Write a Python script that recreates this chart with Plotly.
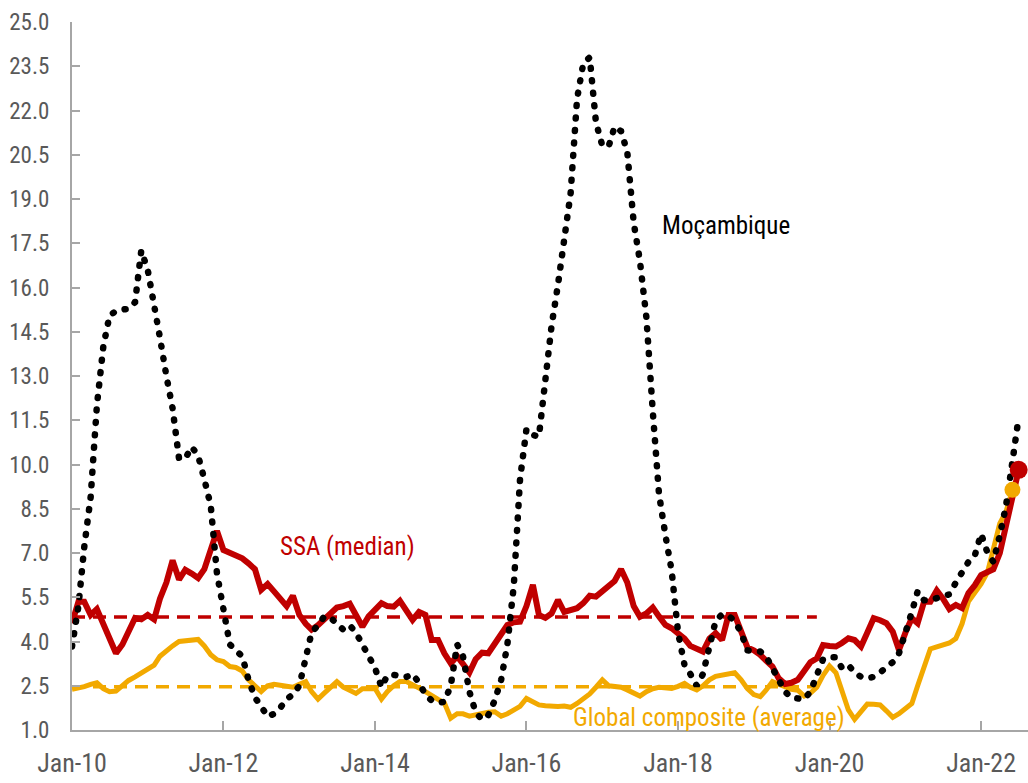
import pandas as pd
import plotly.graph_objects as go

# monthly values, Jan-2010 onwards
moz = [3.83, 5.2, 7.2, 8.9, 12.0, 14.0, 15.05, 15.2, 15.25, 15.28, 15.5, 17.25,
       16.6, 15.5, 14.3, 13.0, 11.9, 10.2, 10.2, 10.6, 10.3, 9.5, 8.6, 6.3,
       5.2, 3.9, 3.7, 3.5, 2.7, 2.1, 1.8, 1.45, 1.55, 1.75, 2.05, 2.2,
       2.5, 3.5, 4.3, 4.55, 4.85, 4.8, 4.6, 4.4, 4.55, 4.3, 3.9, 3.5,
       3.1, 2.45, 2.85, 2.87, 2.82, 2.8, 2.9, 2.6, 2.2, 2.0, 1.93, 1.95,
       2.5, 3.9, 3.5, 2.3, 1.6, 1.35, 1.5, 2.0, 2.7, 3.9, 5.9, 9.5,
       11.2, 11.0, 10.95, 12.9, 14.7, 16.1, 17.5, 19.2, 22.4, 23.6, 23.8, 21.6,
       20.8, 20.8, 21.45, 21.3, 20.6, 18.2, 16.9, 15.0, 11.8, 9.0, 7.6, 6.4,
       4.3, 3.2, 2.9, 2.5, 2.9, 3.9, 4.7, 4.92, 4.87, 4.7, 4.3, 3.7,
       3.66, 3.66, 3.5, 3.1, 2.6, 2.3, 2.1, 2.05, 2.04, 2.3, 2.8, 3.4,
       3.47, 3.47, 3.1, 3.2, 2.95, 2.8, 2.75, 2.8, 2.95, 3.15, 3.3, 3.6,
       4.4, 5.0, 5.7, 5.4, 5.4, 5.45, 5.55, 5.6, 6.0, 6.35, 6.7, 6.9,
       7.65, 7.0, 6.7, 7.6, 8.6, 10.1, 11.6]

ssa = [4.62, 5.35, 5.35, 4.9, 5.1, 4.6, 4.1, 3.6, 3.9, 4.4, 4.8, 4.75,
       4.9, 4.75, 5.45, 6.0, 6.75, 6.1, 6.43, 6.3, 6.15, 6.45, 7.1, 7.75,
       7.1, 7.0, 6.9, 6.82, 6.65, 6.45, 5.75, 5.95, 5.7, 5.45, 5.2, 5.55,
       4.9, 4.6, 4.4, 4.55, 4.75, 4.95, 5.15, 5.2, 5.28, 4.9, 4.5, 4.85,
       5.1, 5.3, 5.2, 5.18, 5.38, 5.05, 4.73, 5.0, 4.9, 4.05, 4.05, 3.6,
       3.26, 3.5, 3.2, 2.95, 3.4, 3.62, 3.6, 3.9, 4.25, 4.56, 4.65, 4.67,
       5.2, 5.92, 4.9, 4.8, 4.95, 5.41, 5.0, 5.05, 5.13, 5.3, 5.55, 5.52,
       5.7, 5.9, 6.05, 6.45, 6.0, 5.2, 4.84, 4.95, 5.15, 4.85, 4.56, 4.45,
       4.28, 4.1, 3.85, 3.75, 3.66, 4.1, 4.28, 4.05, 4.9, 4.9, 4.4, 3.8,
       3.7, 3.55, 3.35, 3.15, 2.75, 2.56, 2.6, 2.7, 3.0, 3.3, 3.43, 3.88,
       3.85, 3.83, 3.95, 4.11, 4.05, 3.83, 4.3, 4.79, 4.72, 4.62, 4.33, 3.71,
       4.3, 4.79, 4.62, 5.35, 5.35, 5.73, 5.45, 5.1, 5.24, 5.13, 5.64, 5.9,
       6.25, 6.35, 6.45, 7.0, 8.0, 9.0, 9.82]

glob = [2.38, 2.42, 2.47, 2.55, 2.6, 2.4, 2.3, 2.32, 2.5, 2.68, 2.8, 2.92,
        3.05, 3.2, 3.5, 3.7, 3.85, 4.0, 4.03, 4.05, 4.07, 3.85, 3.55, 3.38,
        3.32, 3.15, 3.12, 3.0, 2.7, 2.5, 2.3, 2.5, 2.55, 2.52, 2.47, 2.45,
        2.55, 2.64, 2.3, 2.05, 2.25, 2.45, 2.64, 2.45, 2.35, 2.24, 2.4, 2.41,
        2.41, 2.05, 2.3, 2.5, 2.64, 2.64, 2.55, 2.42, 2.3, 2.15, 2.04, 1.92,
        1.4, 1.55, 1.55, 1.47, 1.52, 1.57, 1.6, 1.62, 1.47, 1.55, 1.68, 1.8,
        2.07, 1.95, 1.85, 1.82, 1.79, 1.8, 1.81, 1.77, 1.9, 2.07, 2.22, 2.45,
        2.7, 2.5, 2.47, 2.45, 2.36, 2.25, 2.15, 2.3, 2.4, 2.45, 2.43, 2.41,
        2.48, 2.58, 2.45, 2.36, 2.5, 2.7, 2.82, 2.87, 2.9, 2.94, 2.7, 2.4,
        2.2, 2.13, 2.35, 2.64, 2.55, 2.47, 2.38, 2.35, 2.15, 2.25, 2.45, 2.85,
        3.17, 2.94, 2.36, 1.68, 1.36, 1.6, 1.88, 1.87, 1.85, 1.65, 1.43, 1.55,
        1.7, 1.9, 2.5, 3.2, 3.75, 3.82, 3.88, 3.95, 4.1, 4.6, 5.35, 5.65,
        5.95, 6.35, 7.1, 8.0, 8.4, 9.14]

ssa_avg = 4.83
glob_avg = 2.47
avg_span = ["2010-01-01", "2019-11-01"]

RED = "#C00000"
ORANGE = "#F2A900"
FONT = "Liberation Sans Narrow, Arial Narrow, Roboto Condensed, DejaVu Sans Condensed, sans-serif"

def months(n):
    return pd.date_range("2010-01-01", periods=n, freq="MS")

fig = go.Figure()
fig.add_trace(go.Scatter(x=avg_span, y=[ssa_avg, ssa_avg], mode="lines",
                         line=dict(color=RED, width=3.5, dash="13px,8px")))
fig.add_trace(go.Scatter(x=avg_span, y=[glob_avg, glob_avg], mode="lines",
                         line=dict(color=ORANGE, width=3.5, dash="13px,8px")))
fig.add_trace(go.Scatter(x=months(len(glob)), y=glob, mode="lines",
                         line=dict(color=ORANGE, width=5)))
fig.add_trace(go.Scatter(x=months(len(ssa)), y=ssa, mode="lines",
                         line=dict(color=RED, width=6)))
fig.add_trace(go.Scatter(x=months(len(moz)), y=moz, mode="lines",
                         line=dict(color="black", width=6.5, dash="1px,11.5px")))
# end-point markers
fig.add_trace(go.Scatter(x=[months(len(ssa))[-1]], y=[ssa[-1]], mode="markers",
                         marker=dict(color=RED, size=18), cliponaxis=False))
fig.add_trace(go.Scatter(x=[months(len(glob))[-1]], y=[glob[-1]], mode="markers",
                         marker=dict(color=ORANGE, size=16), cliponaxis=False))

fig.add_annotation(x="2017-10-05", y=18.1, text="Moçambique", showarrow=False,
                   xanchor="left", font=dict(size=25, color="black", family=FONT))
fig.add_annotation(x="2012-09-18", y=7.21, text="SSA (median)", showarrow=False,
                   xanchor="left", font=dict(size=25, color=RED, family=FONT))
fig.add_annotation(x="2016-08-05", y=1.44, text="Global composite (average)", showarrow=False,
                   xanchor="left", font=dict(size=25, color=ORANGE, family=FONT))

fig.update_layout(
    width=1028, height=783,
    margin=dict(l=72, r=0, t=22, b=53),
    plot_bgcolor="white", paper_bgcolor="white",
    showlegend=False,
    font=dict(family=FONT, color="#595959"),
)
fig.update_xaxes(
    type="date", range=["2010-01-01", "2022-08-15"], automargin=False,
    tick0="2010-01-01", dtick="M24", tickformat="%b-%y",
    ticks="inside", ticklen=9, tickcolor="#A6A6A6", tickwidth=2,
    showline=True, linecolor="#A6A6A6", linewidth=2,
    showgrid=False, zeroline=False,
    tickfont=dict(size=26, color="#595959"), ticklabelstandoff=9,
)
fig.update_yaxes(
    range=[1.0, 25.0], tick0=1.0, dtick=1.5, tickformat=".1f", automargin=False,
    ticks="inside", ticklen=8, tickcolor="#A6A6A6", tickwidth=2,
    showline=True, linecolor="#A6A6A6", linewidth=2,
    showgrid=False, zeroline=False,
    tickfont=dict(size=23, color="#595959"), ticklabelstandoff=16,
)

# no page margin; round caps turn the short dashes of the Moçambique line into dots
post = """
document.body.style.margin = '0';
var gd = document.getElementById('{plot_id}');
var traces = gd.querySelectorAll('.scatterlayer .trace');
var p = traces[4].querySelector('path.js-line');
if (p) { p.style.setProperty('stroke-linecap', 'round'); }
"""

fig.write_html("out.html", post_script=post, config={"displayModeBar": False})
